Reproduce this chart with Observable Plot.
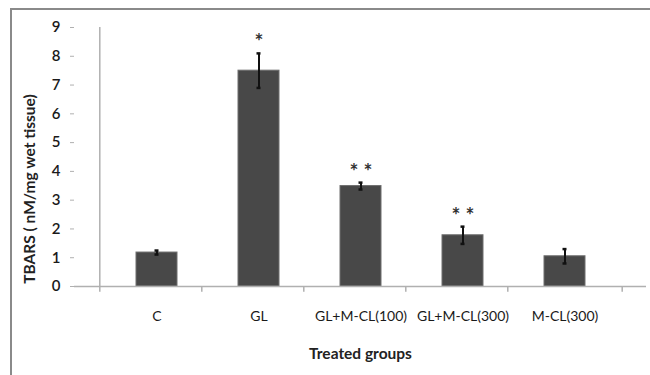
<!DOCTYPE html>
<html>
<head>
<meta charset="utf-8">
<script src="https://cdn.jsdelivr.net/npm/d3@7"></script>
<script src="https://cdn.jsdelivr.net/npm/@observablehq/plot@0.6"></script>
<style>
  html, body { margin: 0; padding: 0; background: #fff; }
  #wrap { position: relative; width: 650px; height: 375px; overflow: hidden; }
  #frame { position: absolute; left: 10px; top: 8px; right: -5px; bottom: -5px;
           border-top: 2px solid #8a8a8a; border-left: 2px solid #8a8a8a; pointer-events: none; }
  svg { display: block; }
</style>
</head>
<body>
<div id="wrap"><div id="frame"></div></div>
<script>
const categories = ["C", "GL", "GL+M-CL(100)", "GL+M-CL(300)", "M-CL(300)"];
const means = [1.18, 7.5, 3.49, 1.78, 1.05];
const errors = [0.07, 0.6, 0.12, 0.3, 0.25];
const marks = ["", "*", "* *", "* *", ""];
const yTicks = [0, 1, 2, 3, 4, 5, 6, 7, 8, 9];
const yLabel = "TBARS ( nM/mg wet tissue)";
const xLabel = "Treated groups";

const data = categories.map((c, i) => ({group: c, v: means[i], e: errors[i], m: marks[i]}));

const W = 650, H = 375, ML = 74, MR = 4, MT = 27, MB = 89;
const step = (W - ML - MR) / categories.length;
const axisGray = "#b0b0b0";
const font = "Lato, 'Open Sans', sans-serif";

const plot = Plot.plot({
  width: W, height: H,
  marginLeft: ML, marginRight: MR, marginTop: MT, marginBottom: MB,
  style: {fontFamily: font, fontSize: "14px", color: "#222", background: "transparent"},
  x: {domain: categories, padding: 0.6, align: 0.5, label: null},
  y: {domain: [0, 9], ticks: yTicks, label: null},
  marks: [
    Plot.axisY({ticks: yTicks, tickSize: 4, tickPadding: 10, stroke: axisGray, fill: "#1a1a1a", fontSize: 15, fontWeight: 600, label: null}),
    Plot.axisX({tickSize: 0, tickPadding: 25, fill: "#1a1a1a", fontSize: 14, label: null}),
    Plot.barY(data, {x: "group", y: "v", fill: "#484848", stroke: "#6e6e6e", strokeWidth: 1}),
    Plot.ruleY([0], {stroke: axisGray, strokeWidth: 1.5}),
    Plot.ruleX([categories[0]], {dx: -step / 2, y1: -0.2, y2: 9, stroke: axisGray, strokeWidth: 1.5}),
    Plot.ruleX(categories.slice(1), {dx: -step / 2, y1: -0.2, y2: 0, stroke: axisGray, strokeWidth: 1.5}),
    Plot.ruleX([categories[categories.length - 1]], {dx: step / 2, y1: -0.2, y2: 0, stroke: axisGray, strokeWidth: 1.5}),
    Plot.ruleX(data, {x: "group", y1: d => d.v - d.e, y2: d => d.v + d.e, stroke: "#111", strokeWidth: 2}),
    Plot.tickY(data, {x: "group", y: d => d.v + d.e, insetLeft: 18.5, insetRight: 18.5, stroke: "#111", strokeWidth: 2.5}),
    Plot.tickY(data, {x: "group", y: d => d.v - d.e, insetLeft: 18.5, insetRight: 18.5, stroke: "#111", strokeWidth: 2.5}),
    Plot.text(data.filter(d => d.m), {x: "group", y: d => d.v + d.e, text: "m", dy: -4, lineAnchor: "bottom", fontSize: 21, fill: "#333", fontWeight: "bold"}),
    Plot.text([yLabel], {frameAnchor: "left", textAnchor: "middle", rotate: -90, dx: -44, dy: 32, fontSize: 15.5, fontWeight: "bold", fill: "#222"}),
    Plot.text([xLabel], {frameAnchor: "bottom", dy: 72, fontSize: 15.5, fontWeight: "bold", fill: "#222"})
  ]
});
document.getElementById("wrap").prepend(plot);
</script>
</body>
</html>
